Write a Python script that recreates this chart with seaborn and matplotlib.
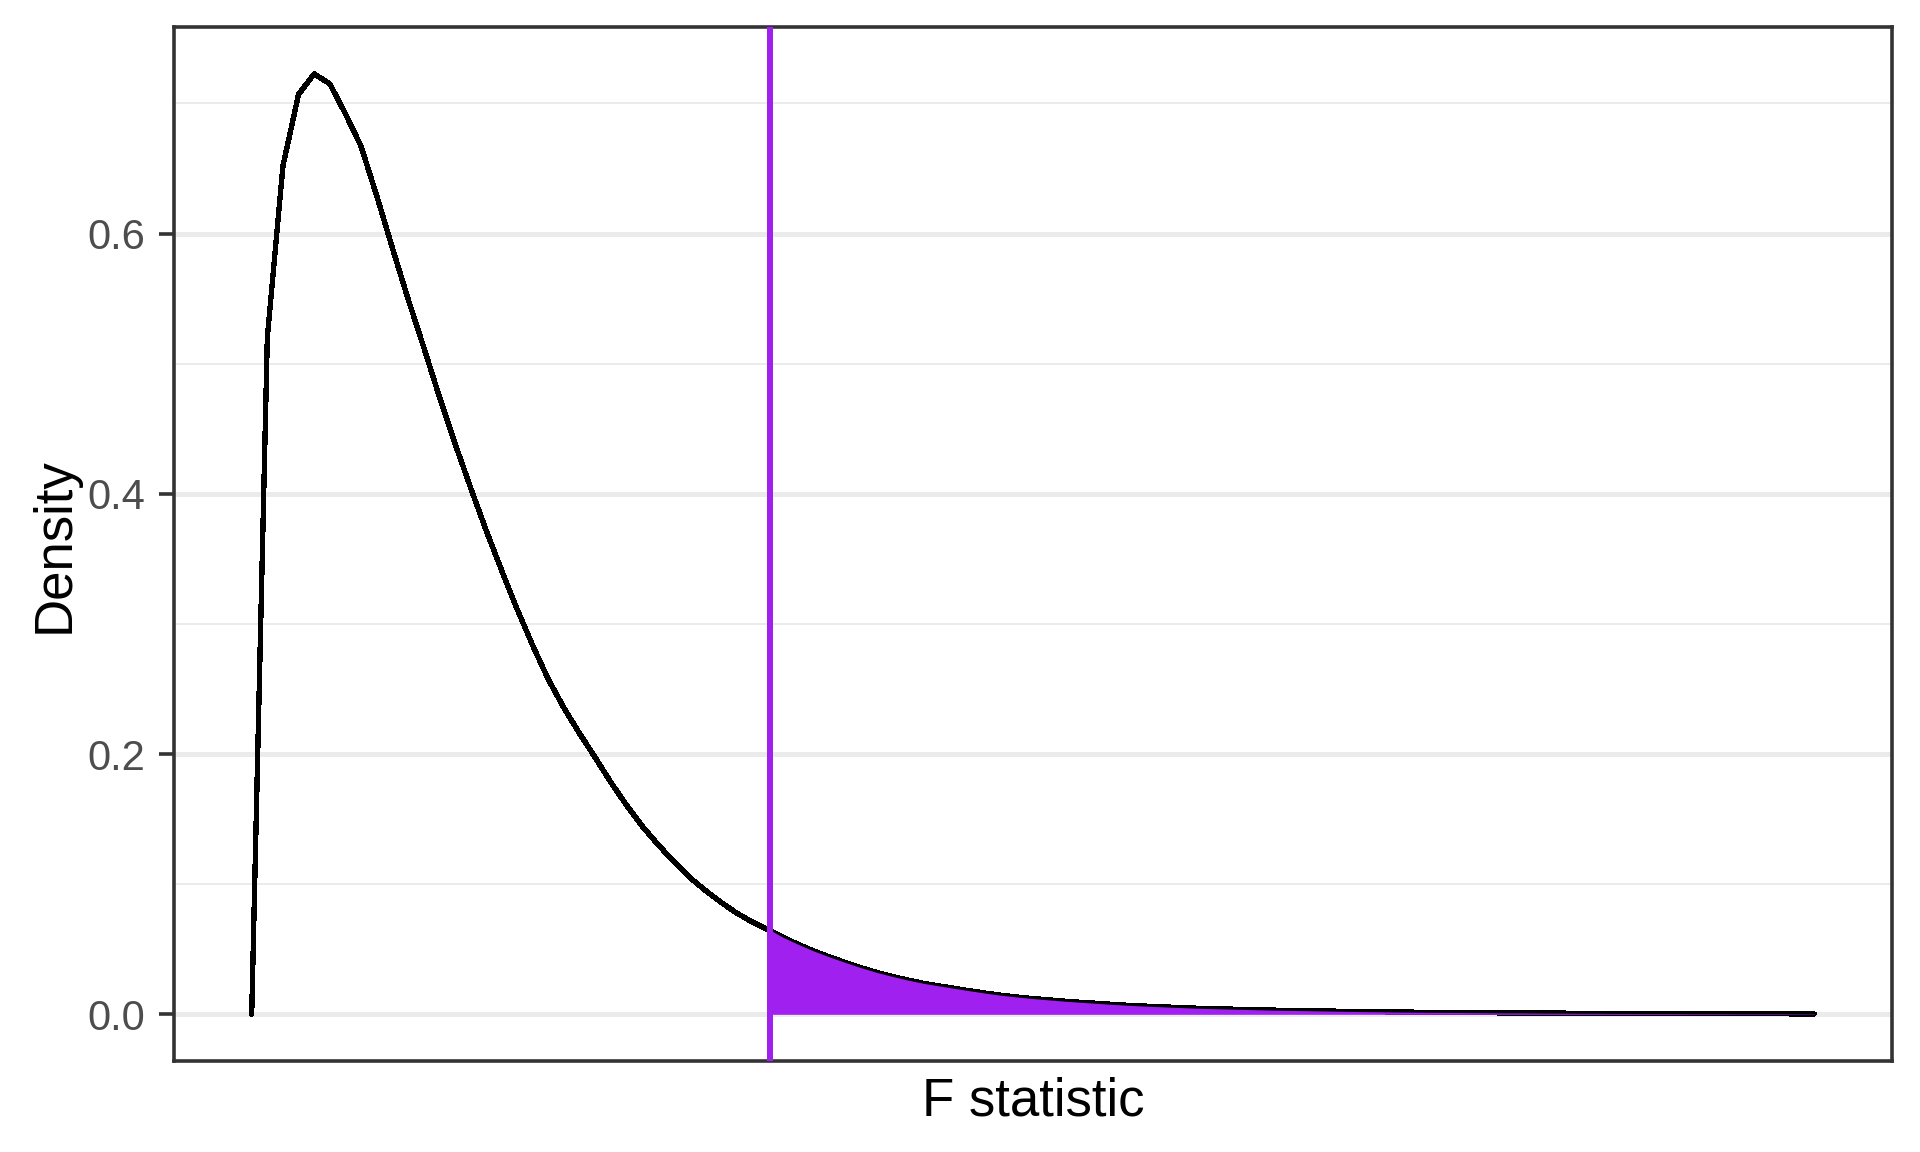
import numpy as np
import pandas as pd
import seaborn as sns
import matplotlib
matplotlib.use("Agg")
import matplotlib.pyplot as plt

# F density curve: 101 evenly spaced points
f_stat = np.arange(101)
density = [
    0.0, 0.520, 0.652, 0.707, 0.7227, 0.715, 0.692, 0.667, 0.629, 0.589,
    0.550, 0.513, 0.475, 0.439, 0.405, 0.372, 0.341, 0.311, 0.283, 0.257,
    0.235, 0.2155, 0.197, 0.178, 0.1605, 0.1445, 0.1305, 0.1175, 0.1055, 0.0955,
    0.0864, 0.0781, 0.0712, 0.0652, 0.0592, 0.0536, 0.0485, 0.0440, 0.0398, 0.0358,
    0.0322, 0.0291, 0.0263, 0.0238, 0.0218, 0.0199, 0.0180, 0.0162, 0.0146, 0.0133,
    0.0121, 0.0111, 0.0101, 0.0093, 0.0085, 0.0077, 0.0070, 0.0064, 0.0059, 0.0054,
    0.0049, 0.0045, 0.0042, 0.0039, 0.0036, 0.0033, 0.0031, 0.0029, 0.0027, 0.0025,
    0.0023, 0.0021, 0.0020, 0.0018, 0.0017, 0.0016, 0.0015, 0.0014, 0.0013, 0.0012,
    0.0011, 0.0011, 0.0010, 0.0009, 0.0009, 0.0008, 0.0008, 0.0007, 0.0007, 0.0006,
    0.0006, 0.0006, 0.0005, 0.0005, 0.0005, 0.0004, 0.0004, 0.0004, 0.0004, 0.0003,
    0.0003,
]

# critical value (purple line) and the density where it meets the curve
crit_x = 33.14
crit_y = 0.065

y_major = [0.0, 0.2, 0.4, 0.6]
y_minor = [0.1, 0.3, 0.5, 0.7]
y_labels = ["0.0", "0.2", "0.4", "0.6"]

purple = "#A020F0"

df = pd.DataFrame({"f": f_stat, "density": density})
tail = df[df["f"] > crit_x]
tail_x = [crit_x] + list(tail["f"])
tail_y = [crit_y] + list(tail["density"])

sns.set_theme(style="white")
plt.rcParams["font.family"] = ["Liberation Sans", "DejaVu Sans"]

fig = plt.figure(figsize=(19.2, 11.52), dpi=100)
ax = fig.add_axes([0.0904, 0.0787, 0.9856 - 0.0904, 0.9767 - 0.0787])

sns.lineplot(data=df, x="f", y="density", color="black", linewidth=3.1, ax=ax,
             zorder=3, antialiased=False)
ax.fill_between(tail_x, 0, tail_y, color=purple, linewidth=0, zorder=4, antialiased=False)
ax.axvline(crit_x, color=purple, linewidth=3.1, zorder=5, antialiased=False)

# ggplot-style 5% expansion
xr = f_stat.max() - f_stat.min()
ax.set_xlim(f_stat.min() - 0.05 * xr, f_stat.max() + 0.05 * xr)
yr = max(density) - min(density)
ax.set_ylim(min(density) - 0.05 * yr, max(density) + 0.05 * yr)

ax.set_xticks([])
ax.set_yticks(y_major)
ax.set_yticklabels(y_labels)
ax.set_yticks(y_minor, minor=True)
ax.grid(False)
ax.grid(True, axis="y", which="major", color="#EBEBEB", linewidth=3.3, zorder=0,
        antialiased=False)
ax.grid(True, axis="y", which="minor", color="#EBEBEB", linewidth=1.3, zorder=0,
        antialiased=False)
ax.set_axisbelow(True)

ax.tick_params(axis="y", which="major", length=11, width=2.6, color="#333333",
               labelsize=30, labelcolor="#4D4D4D", pad=9.5, left=True)
ax.tick_params(axis="y", which="minor", length=0)
for sp in ax.spines.values():
    sp.set_visible(True)
    sp.set_color("#333333")
    sp.set_linewidth(2.6)

ax.set_xlabel("")
ax.set_ylabel("")
fig.text(1033 / 1920, 1 - 1116 / 1152, "F statistic", ha="center", va="baseline",
         fontsize=38, color="black")
fig.text(68.8 / 1920, 1 - 545 / 1152, "Density", ha="center", va="baseline",
         rotation=90, rotation_mode="anchor", fontsize=38, color="black")

fig.savefig("out.png", dpi=100)
